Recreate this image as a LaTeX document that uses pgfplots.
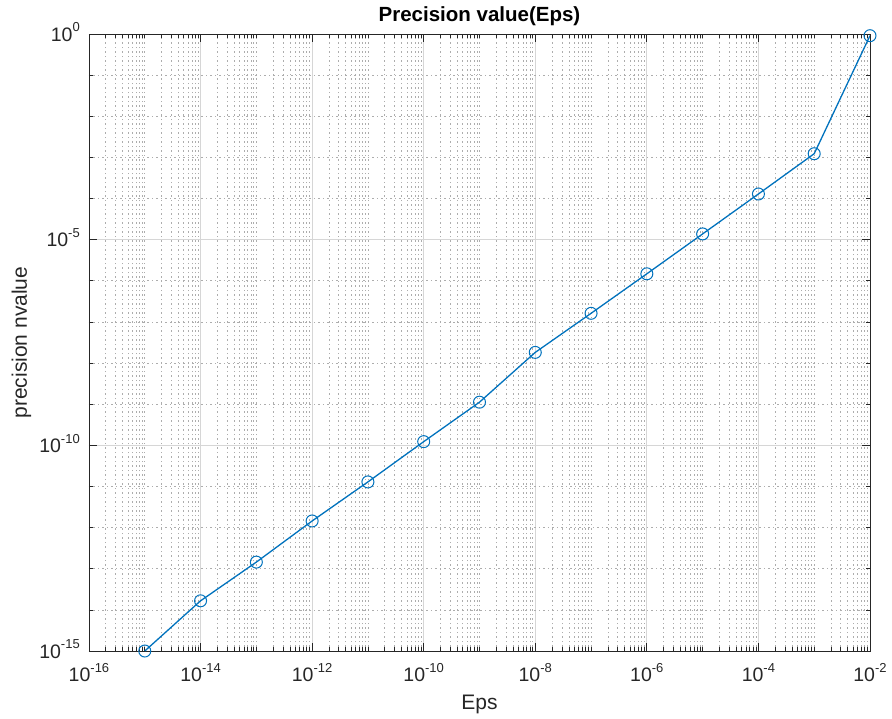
\documentclass[border=0pt]{standalone}
\usepackage{pgfplots}
\pgfplotsset{compat=1.18}
\usepackage{fontspec}
\setmainfont{Liberation Sans}
\definecolor{mblue}{RGB}{0,114,189}
\definecolor{mtext}{RGB}{38,38,38}
\newcommand\tl[1]{10\raisebox{9.5pt}{\fontsize{13}{13}\selectfont #1}}
\def\mxt{1e-15}
\foreach \e in {-13,-11,-9,-7,-5,-3}{\xdef\mxt{\mxt,1e\e}}
\foreach \e in {-16,...,-3}{\foreach \m in {2,...,9}{\xdef\mxt{\mxt,\m e\e}}}
\begin{document}
\begin{tikzpicture}
\useasboundingbox (-89pt,-67pt) rectangle (803pt,651pt);
\begin{axis}[
  scale only axis,
  width=781pt, height=617pt,
  xmode=log, ymode=log,
  xmin=1e-16, xmax=1e-2, ymin=1e-15, ymax=1,
  xtick={1e-16,1e-14,1e-12,1e-10,1e-8,1e-6,1e-4,1e-2},
  xticklabels={\tl{-16},\tl{-14},\tl{-12},\tl{-10},\tl{-8},\tl{-6},\tl{-4},\tl{-2}},
  ytick={1e-15,1e-10,1e-5,1},
  yticklabels={\tl{-15},\tl{-10},\tl{-5},\tl{0}},
  minor xtick/.expanded={\mxt},
  minor ytick={1e-14,1e-13,1e-12,1e-11,1e-9,1e-8,1e-7,1e-6,1e-4,1e-3,1e-2,1e-1},
  grid=both,
  major grid style={solid, color=black!16, line width=0.7pt},
  minor grid style={dash pattern=on 1.5pt off 3pt, color=black!32, line width=0.7pt},
  tick align=inside,
  major tick length=8pt, minor tick length=4pt,
  every tick/.style={color=mtext, line width=0.7pt},
  axis line style={color=mtext, line width=0.8pt},
  xticklabel style={font=\fontsize{19.5}{20}\selectfont, text=mtext, inner sep=0pt, anchor=north, yshift=-12pt},
  yticklabel style={font=\fontsize{19.5}{20}\selectfont, text=mtext, inner sep=0pt, anchor=east, xshift=-9pt, yshift=2pt},
  title={Precision value(Eps)},
  title style={font=\bfseries\fontsize{20.5}{22}\selectfont, text=black, at={(axis description cs:0.5,1)}, anchor=base, yshift=7pt, inner sep=0pt},
  xlabel={Eps},
  xlabel style={font=\fontsize{21}{22}\selectfont, text=mtext, at={(axis description cs:0.5,0)}, anchor=base, yshift=-58pt, inner sep=0pt},
  ylabel={precision nvalue},
  ylabel style={font=\fontsize{21}{22}\selectfont, text=mtext, at={(axis description cs:0,0.5)}, anchor=base, yshift=62pt, inner sep=0pt},
]
\addplot[color=mblue, line width=1.3pt, mark=o, mark size=6pt, mark options={solid, line width=1pt}] coordinates {
(1e-15,1e-15)
(1e-14,1.66e-14)
(1e-13,1.45e-13)
(1e-12,1.45e-12)
(1e-11,1.29e-11)
(1e-10,1.23e-10)
(1e-9,1.12e-9)
(1e-8,1.82e-8)
(1e-7,1.62e-7)
(1e-6,1.48e-6)
(1e-5,1.38e-5)
(1e-4,1.29e-4)
(1e-3,1.23e-3)
(1e-2,0.91)
};
\end{axis}
\end{tikzpicture}
\end{document}
